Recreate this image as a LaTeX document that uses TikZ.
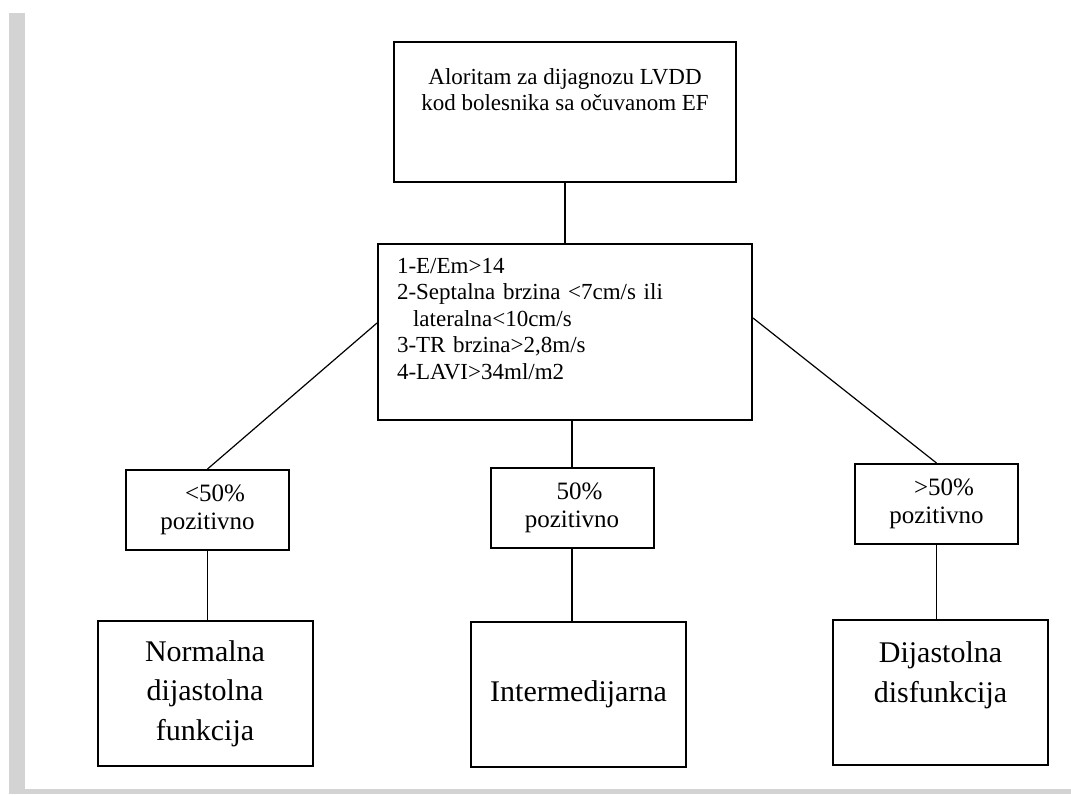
\documentclass[tikz,border=0pt]{standalone}
\usepackage{fontspec}
\setmainfont{Liberation Serif}
\usepackage{tikz}
\usetikzlibrary{positioning,calc}
\definecolor{pagegray}{HTML}{D3D3D3}
\tikzset{box/.style={draw=black,line width=1pt,align=center,inner sep=0pt,font=\fontsize{11.5}{13}\selectfont},
  crit/.style={box,align=left,text width=168pt,inner xsep=9.5pt,minimum height=88pt,font=\fontsize{11.5}{13.25}\selectfont},
  small/.style={box,minimum width=81.5pt,minimum height=40pt,font=\fontsize{12.5}{14}\selectfont},
  res/.style={box,minimum width=107.5pt,minimum height=72.5pt,font=\fontsize{15}{19.75}\selectfont},
  lnk/.style={draw=black,line width=0.9pt},
  diag/.style={draw=black,line width=0.6pt}}
\begin{document}
\begin{tikzpicture}[x=0.5pt,y=-0.5pt]
\useasboundingbox[fill=white] (0,0) rectangle (1071,794);
% page shadow
\fill[pagegray] (9,13) rectangle (25,794);
\fill[pagegray] (9,789) rectangle (1071,794);
% boxes
\node[box,minimum width=171pt,minimum height=70pt] (top) at (565,112) {Aloritam za dijagnozu LVDD\\kod bolesnika sa očuvanom EF\\[9pt]~};
\node[crit] (crit) at (565,332) {1-E/Em>14\\2-Septalna brzina <7cm/s ili\\\hspace*{0.7em}lateralna<10cm/s\\3-TR brzina>2,8m/s\\4-LAVI>34ml/m2\\~};
\node[small] (less) at (207.5,510) {\hspace*{0.6em}<50\%\\pozitivno};
\node[small] (half) at (572,508) {\hspace*{0.6em}50\%\\pozitivno};
\node[small] (more) at (936.5,504) {\hspace*{0.6em}>50\%\\pozitivno};
\node[res] (norm) at (205,693.5) {Normalna\\dijastolna\\funkcija};
\node[res] (inter) at (578.5,694.5) {Intermedijarna};
\node[res] (dysf) at (940.5,692) {Dijastolna\\disfunkcija\\~};
% connectors
\draw[lnk] (top)--(crit);
\draw[diag] ([yshift=4.5pt]crit.west)--(less.north);
\draw[diag] ([yshift=7pt]crit.east)--(more.north);
\draw[lnk] (half.north |- crit.south)--(half.north);
\draw[lnk] (less.south)--(less.south |- norm.north);
\draw[lnk] (half.south)--(half.south |- inter.north);
\draw[lnk] (more.south)--(more.south |- dysf.north);
\end{tikzpicture}
\end{document}
